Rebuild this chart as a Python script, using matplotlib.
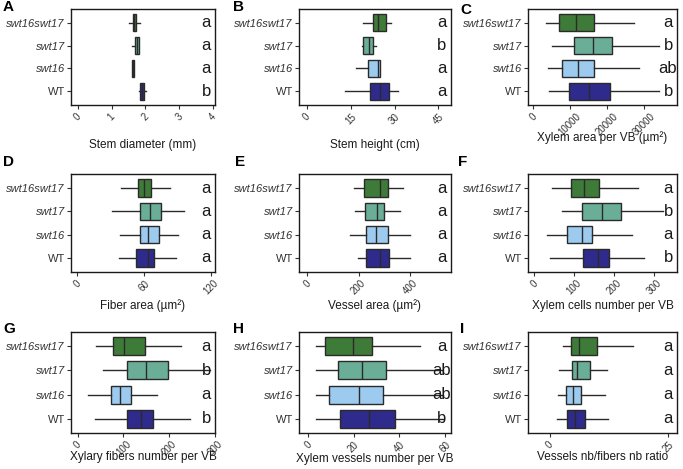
import matplotlib.pyplot as plt

plt.rcParams['font.family'] = ['Liberation Sans', 'DejaVu Sans']

genotypes = ['swt16swt17', 'swt17', 'swt16', 'WT']
colors = ['#3f7b38', '#6bae98', '#9dcbef', '#2e2b8c']

# box stats per panel, order as genotypes: (whislo, q1, med, q3, whishi)
stem_diameter = [(1.51, 1.62, 1.67, 1.71, 1.83),
                 (1.59, 1.68, 1.74, 1.80, 1.82),
                 (1.60, 1.60, 1.63, 1.66, 1.66),
                 (1.80, 1.83, 1.90, 1.97, 2.03)]
stem_height = [(19.3, 22.7, 24.3, 27.0, 28.7),
               (19.0, 19.3, 21.3, 22.7, 23.7),
               (16.7, 21.0, 24.3, 25.0, 25.0),
               (13.0, 21.7, 25.0, 28.0, 31.0)]
xylem_area = [(3540, 7080, 11700, 16600, 27250),
              (5180, 11170, 16350, 21500, 34060),
              (4090, 7900, 12260, 16600, 28600),
              (4360, 9810, 15260, 20700, 34060)]
fiber_area = [(39, 54.5, 60, 66, 83),
              (31, 56, 65.5, 75.5, 96),
              (38, 56, 63.5, 73, 90),
              (37.5, 53, 63.5, 69, 89)]
vessel_area = [(184, 220, 284, 316, 372),
               (188, 224, 272, 300, 360),
               (168, 228, 268, 316, 400),
               (196, 228, 284, 320, 400)]
xylem_cells = [(45, 92, 125, 162, 260),
               (70, 120, 170, 217, 322),
               (32, 82, 120, 145, 245),
               (40, 122, 160, 187, 275)]
fibers_nb = [(39, 77, 101, 147, 225),
             (55, 107, 149, 197, 290),
             (22, 72, 92, 116, 173),
             (37, 107, 138, 164, 245)]
vessels_nb = [(3.6, 7.6, 19.6, 28.0, 49),
              (3.6, 12.9, 23.6, 34.2, 59),
              (3.6, 9.3, 22.2, 32.9, 59),
              (3.6, 14.2, 26.7, 38.2, 59)]
ratio = [(2.7, 4.4, 6.1, 9.9, 17.6),
         (1.9, 4.6, 5.7, 8.6, 12.2),
         (1.7, 3.4, 5.0, 6.7, 11.6),
         (1.5, 3.6, 5.3, 7.4, 12.4)]

panels = [
    ('A', stem_diameter, 'Stem diameter (mm)', [0, 1, 2, 3, 4], (-0.2, 4.06), ['a', 'a', 'a', 'b']),
    ('B', stem_height, 'Stem height (cm)', [0, 15, 30, 45], (-2.7, 49.3), ['a', 'b', 'a', 'a']),
    ('C', xylem_area, 'Xylem area per VB (µm²)', [0, 10000, 20000, 30000], (-1400, 39000), ['a', 'b', 'ab', 'b']),
    ('D', fiber_area, 'Fiber area (µm²)', [0, 60, 120], (-5.5, 123.6), ['a', 'a', 'a', 'a']),
    ('E', vessel_area, 'Vessel area (µm²)', [0, 200, 400], (-32, 560), ['a', 'a', 'a', 'a']),
    ('F', xylem_cells, 'Xylem cells number per VB', [0, 100, 200, 300], (-15, 357), ['a', 'b', 'a', 'b']),
    ('G', fibers_nb, 'Xylary fibers number per VB', [0, 100, 200, 300], (-15, 300.5), ['a', 'b', 'a', 'b']),
    ('H', vessels_nb, 'Xylem vessels number per VB', [0, 20, 40, 60], (-4, 62.7), ['a', 'ab', 'ab', 'b']),
    ('I', ratio, 'Vessels nb/fibers nb ratio', [0, 25], (-4.6, 26.9), ['a', 'a', 'a', 'a']),
]

W, H = 683, 469
cols = [(71, 215), (299, 451), (528, 677)]
rows = [(9, 105), (174, 272), (332, 433)]
xlabel_y = [[145, 145, 138], [306, 306, 306], [457, 459, 457]]
letter_pos = [[(3, 0), (233, 0), (460, 3)], [(3, 155), (235, 155), (458, 155)], [(3, 322), (233, 322), (460, 322)]]

fig = plt.figure(figsize=(W / 100, H / 100), dpi=100)

for i, (tag, stats, xlabel, ticks, xlim, sig) in enumerate(panels):
    r, c = divmod(i, 3)
    x0, x1 = cols[c]
    y0, y1 = rows[r]
    ax = fig.add_axes([x0 / W, 1 - y1 / H, (x1 - x0) / W, (y1 - y0) / H])

    bstats = []
    for g, s in zip(genotypes, stats):
        bstats.append(dict(label=g, whislo=s[0], q1=s[1], med=s[2], q3=s[3], whishi=s[4], fliers=[]))
    pos = [4, 3, 2, 1]
    bp = ax.bxp(bstats, positions=pos, widths=0.75, vert=False, patch_artist=True,
                showcaps=False,
                boxprops=dict(edgecolor='#2a2a2a', linewidth=1.0),
                medianprops=dict(color='#2a2a2a', linewidth=1.0),
                whiskerprops=dict(color='#2a2a2a', linewidth=1.0))
    for patch, col in zip(bp['boxes'], colors):
        patch.set_facecolor(col)

    ax.set_xlim(*xlim)
    ax.set_ylim(0.4, 4.6)
    ax.set_xticks(ticks)
    ax.set_xticklabels([str(t) for t in ticks], rotation=45, ha='center', va='top',
                       fontsize=7, color='#333333')
    ax.set_yticks(pos)
    ax.set_yticklabels(genotypes, fontsize=8, color='#333333')
    for lab in ax.get_yticklabels():
        if lab.get_text() != 'WT':
            lab.set_fontstyle('italic')
    ax.tick_params(length=3, width=0.8, color='#333333', pad=1.5)
    ax.tick_params(axis='x', pad=1.5)
    for sp in ax.spines.values():
        sp.set_linewidth(1.0)
        sp.set_color('#1a1a1a')

    for p, s in zip(pos, sig):
        ax.text(0.94, p, s, transform=ax.get_yaxis_transform(), ha='center', va='center',
                fontsize=12, color='#1a1a1a')

    fig.text((x0 + x1) / 2 / W, 1 - xlabel_y[r][c] / H, xlabel, ha='center', va='center',
             fontsize=8.5, color='#1a1a1a')
    lx, ly = letter_pos[r][c]
    fig.text(lx / W, 1 - ly / H, tag, ha='left', va='top', fontsize=11, fontweight='bold')

fig.savefig('out.png', dpi=100)
